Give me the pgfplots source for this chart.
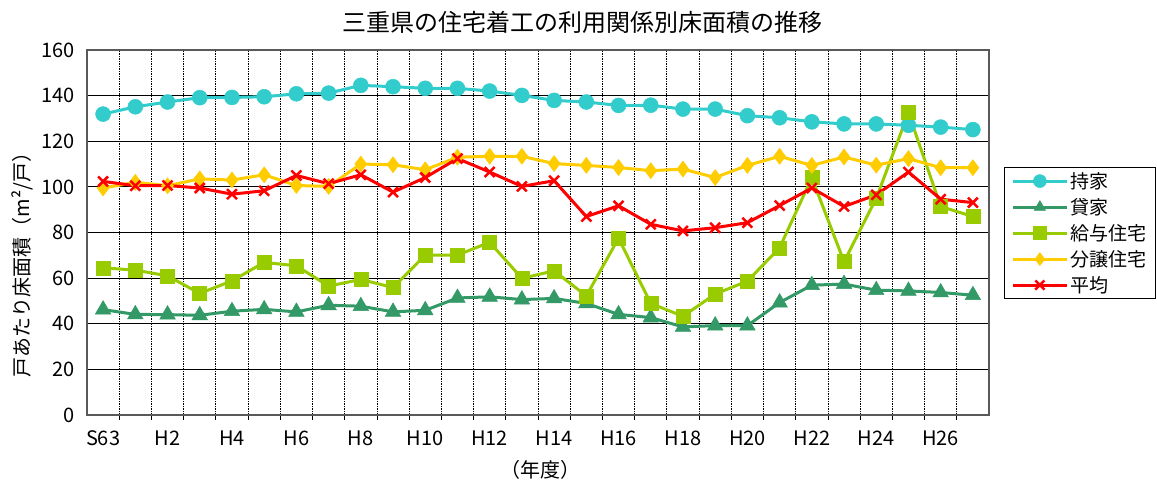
\documentclass[border=0pt]{standalone}
\usepackage{fontspec}
\setmainfont{Noto Sans CJK JP}
\usepackage{pgfplots}
\usepackage{pgfplotstable}
\pgfplotsset{compat=1.18}
\definecolor{cMochi}{HTML}{33CCCC}
\definecolor{cKashi}{HTML}{339966}
\definecolor{cKyuyo}{HTML}{99CC00}
\definecolor{cBunjo}{HTML}{FFCC00}
\definecolor{cAvg}{HTML}{FF0000}
\pgfplotstableread{
x mochi kashi kyuyo bunjo avg
0  131.9 46.2 64.5 99.5  102.4
1  135.1 44.1 63.5 102.0 100.5
2  137.2 44.0 61.0 100.5 100.6
3  139.1 43.7 53.3 103.5 99.5
4  139.2 45.5 58.8 103.0 96.8
5  139.5 46.3 66.9 105.3 98.3
6  140.8 45.2 65.4 100.6 105.0
7  141.1 48.1 56.5 100.2 101.4
8  144.5 47.7 59.4 110.0 105.3
9  143.9 45.2 55.9 109.7 97.7
10 143.2 45.9 70.1 107.5 104.1
11 143.2 51.3 70.1 113.0 112.4
12 142.0 51.8 75.7 113.4 106.5
13 140.1 50.6 59.9 113.4 100.2
14 137.9 51.1 63.2 110.2 102.7
15 137.2 48.9 52.2 109.4 87.0
16 135.7 44.1 77.5 108.5 91.7
17 135.8 42.7 48.9 107.1 83.6
18 134.1 38.6 43.3 107.8 80.7
19 134.1 39.2 53.0 104.1 82.1
20 131.2 39.2 58.7 109.4 84.3
21 130.3 49.3 73.3 113.4 91.8
22 128.5 56.9 104.0 109.4 99.5
23 127.6 57.4 67.2 113.1 91.4
24 127.6 54.7 95.0 109.5 96.5
25 127.0 54.4 132.5 112.4 106.5
26 126.2 53.7 91.4 108.4 94.6
27 125.1 52.5 87.0 108.4 93.1
}\datatable
\begin{document}
\begin{tikzpicture}
\useasboundingbox (-87pt,-69pt) rectangle (1070pt,415pt);
\begin{axis}[
  scale only axis, width=902pt, height=365pt,
  at={(0pt,0pt)}, anchor=south west,
  xmin=-0.5, xmax=27.5, ymin=0, ymax=160,
  xtick={0,2,...,26},
  xticklabels={S63,H2,H4,H6,H8,H10,H12,H14,H16,H18,H20,H22,H24,H26},
  minor xtick={0.5,1.5,...,26.5},
  ytick={0,20,...,160},
  xminorgrids=true, ymajorgrids=true, xmajorgrids=false,
  minor x grid style={black, dash pattern=on 1.5pt off 1pt, line width=0.8pt},
  major y grid style={black, line width=1.2pt},
  major tick length=0pt, minor tick length=5pt,
  tick align=outside, xtick pos=bottom, ytick pos=left,
  minor tick style={black, line width=0.8pt},
  axis line style={gray!70!black, line width=2pt},
  /pgf/number format/assume math mode=true,
  ticklabel style={font=\fontsize{20}{23}\selectfont},
  yticklabel style={xshift=-9pt},
  xticklabel style={yshift=-12pt},
  clip=false,
  legend style={at={(axis description cs:1.0166,0.6795)}, anchor=north west,
    draw=black, line width=0.8pt, fill=white,
    font=\fontsize{19}{22}\selectfont,
    inner xsep=7pt, inner ysep=3pt,
    row sep=4.5pt,
    nodes={inner sep=2pt}},
  legend cell align=left,
  legend image code/.code={\draw[mark repeat=2, mark phase=2, mark size=6.5pt] plot coordinates {(0pt,0pt) (27pt,0pt) (54pt,0pt)};},
]
\addplot[cMochi, line width=3pt, mark=*, mark size=7.5pt, mark options={solid, fill=cMochi, draw=cMochi, line width=0.5pt}] table[x=x, y=mochi] {\datatable};
\addlegendentry{持家}
\addplot[cKashi, line width=3pt, mark=triangle*, mark size=9pt, mark options={solid, fill=cKashi, draw=cKashi, line width=0.5pt}] table[x=x, y=kashi] {\datatable};
\addlegendentry{貸家}
\addplot[cKyuyo, line width=3pt, mark=square*, mark size=7pt, mark options={solid, fill=cKyuyo, draw=cKyuyo, line width=0.5pt}] table[x=x, y=kyuyo] {\datatable};
\addlegendentry{給与住宅}
\addplot[cBunjo, line width=3pt, mark=diamond*, mark size=8pt, mark options={solid, fill=cBunjo, draw=cBunjo, line width=0.5pt}] table[x=x, y=bunjo] {\datatable};
\addlegendentry{分譲住宅}
\addplot[cAvg, line width=3pt, mark=x, mark size=7pt, mark options={solid, draw=cAvg, line width=2.5pt}] table[x=x, y=avg] {\datatable};
\addlegendentry{平均}
\end{axis}
\node[font=\fontsize{24}{28}\selectfont] at (495pt,393pt) {三重県の住宅着工の利用関係別床面積の推移};
\node[font=\fontsize{20}{24}\selectfont, rotate=90] at (-65pt,155pt) {戸あたり床面積（m²/戸）};
\node[font=\fontsize{20}{24}\selectfont] at (453pt,-55pt) {（年度）};
\end{tikzpicture}
\end{document}
